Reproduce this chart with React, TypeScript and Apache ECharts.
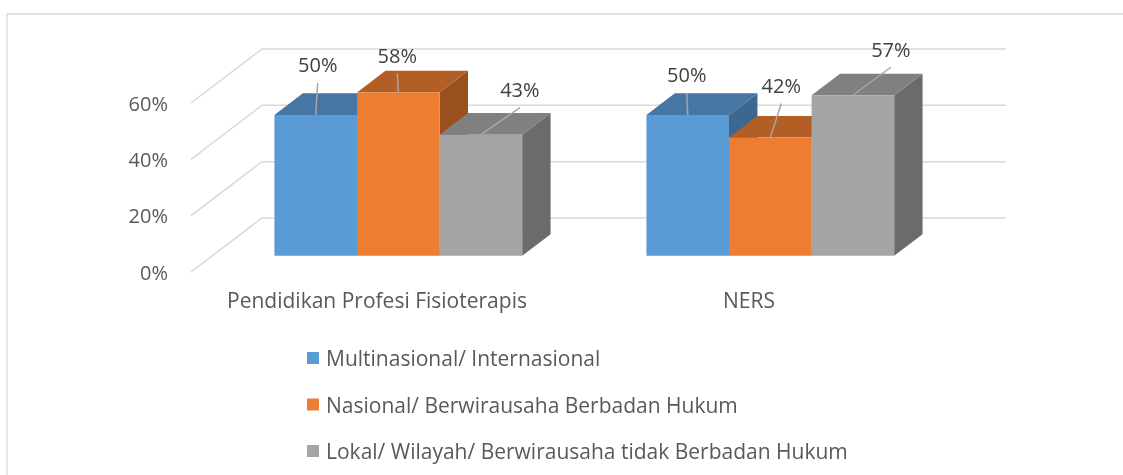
import React, { useEffect, useRef } from "react";
import * as echarts from "echarts";

const categories = ["Pendidikan Profesi Fisioterapis", "NERS"];
const seriesNames = [
  "Multinasional/ Internasional",
  "Nasional/ Berwirausaha Berbadan Hukum",
  "Lokal/ Wilayah/ Berwirausaha tidak Berbadan Hukum",
];
const multinasional = [0.5, 0.5];
const nasional = [0.58, 0.42];
const lokal = [0.43, 0.57];
const tickValues = [0, 0.2, 0.4, 0.6];

// label offsets (relative to top-front-centre of each bar) – layout only
const labelOffsets = [
  [[2, -50], [-1, -40]],
  [[-1, -37], [11, -52]],
  [[39, -45], [38, -46]],
];

const faceColors = [
  { front: "#5B9BD5", top: "#4676A3", side: "#3B6790" },
  { front: "#ED7D31", top: "#B35E24", side: "#9A4F1F" },
  { front: "#A5A5A5", top: "#808080", side: "#6B6B6B" },
];

const FONT = "Open Sans";
const WALL_DX = 71;
const WALL_DY = -54;
const FRONT_F = 0.3;
const DEPTH_F = 0.4;

export default function App() {
  const ref = useRef<HTMLDivElement>(null);
  useEffect(() => {
    document.body.style.margin = "0";
    const chart = echarts.init(ref.current!, null, { renderer: "svg" });
    const values = [multinasional, nasional, lokal];

    const gridSeries = {
      type: "custom",
      silent: true,
      z: 1,
      data: tickValues.map((v) => [0, v]),
      encode: { x: 0, y: 1 },
      renderItem: (params: any, api: any) => {
        const cs = params.coordSys;
        const y = api.coord([0, api.value(1)])[1];
        return {
          type: "polyline",
          shape: {
            points: [
              [cs.x, y],
              [cs.x + WALL_DX, y + WALL_DY],
              [cs.x + cs.width + WALL_DX, y + WALL_DY],
            ],
          },
          style: { stroke: "#D9D9D9", lineWidth: 1.5, fill: "none" },
        };
      },
    };

    const barSeries = values.map((vals, si) => ({
      type: "custom",
      name: seriesNames[si],
      itemStyle: { color: faceColors[si].front },
      data: vals.map((v, ci) => [ci, v]),
      encode: { x: 0, y: 1 },
      renderItem: (params: any, api: any) => {
        const ci = api.value(0);
        const v = api.value(1);
        const base = api.coord([ci, 0]);
        const top = api.coord([ci, v]);
        const bandW = api.size([1, 0])[0];
        const barW = bandW * 0.222;
        const fx = FRONT_F * WALL_DX;
        const fy = FRONT_F * WALL_DY;
        const bdx = DEPTH_F * WALL_DX;
        const bdy = DEPTH_F * WALL_DY;
        const x0 = base[0] + fx - 1.5 * barW + si * barW;
        const yb = base[1] + fy;
        const yt = top[1] + fy;
        const c = faceColors[si];
        const ax = x0 + barW / 2;
        const off = labelOffsets[si][ci];
        return {
          type: "group",
          children: [
            {
              type: "polygon",
              shape: {
                points: [
                  [x0 + barW, yt],
                  [x0 + barW + bdx, yt + bdy],
                  [x0 + barW + bdx, yb + bdy],
                  [x0 + barW, yb],
                ],
              },
              style: { fill: c.side },
            },
            {
              type: "polygon",
              shape: {
                points: [
                  [x0, yt],
                  [x0 + barW, yt],
                  [x0 + barW + bdx, yt + bdy],
                  [x0 + bdx, yt + bdy],
                ],
              },
              style: { fill: c.top },
            },
            {
              type: "rect",
              shape: { x: x0, y: yt, width: barW, height: yb - yt },
              style: { fill: c.front },
            },
            {
              type: "line",
              z2: 100,
              shape: { x1: ax, y1: yt, x2: ax + off[0], y2: yt + off[1] + 18 },
              style: { stroke: "#A6A6A6", lineWidth: 1.5 },
            },
            {
              type: "text",
              z2: 101,
              x: ax + off[0],
              y: yt + off[1],
              style: {
                text: Math.round(v * 100) + "%",
                fontSize: 20,
                fontFamily: FONT,
                fill: "#404040",
                align: "center",
                verticalAlign: "middle",
              },
            },
          ],
        };
      },
    }));

    chart.setOption({
      animation: false,
      grid: { left: 191, right: 188, top: 103, bottom: 203 },
      graphic: [
        {
          type: "rect",
          silent: true,
          shape: { x: 7, y: 14, width: 1300, height: 600 },
          style: { fill: "none", stroke: "#D9D9D9", lineWidth: 1.3 },
        },
      ],
      legend: {
        orient: "vertical",
        left: 302,
        top: 341,
        itemWidth: 12,
        itemHeight: 12,
        itemGap: 22.5,
        data: seriesNames.map((n) => ({ name: n, icon: "rect" })),
        textStyle: {
          fontSize: 21,
          fontFamily: FONT,
          color: "#595959",
          lineHeight: 24,
          padding: [0, 0, 0, 2],
        },
      },
      xAxis: {
        type: "category",
        data: categories,
        axisLine: { show: false },
        axisTick: { show: false },
        axisLabel: {
          interval: 0,
          fontSize: 21,
          fontFamily: FONT,
          color: "#595959",
          margin: 17,
        },
      },
      yAxis: {
        type: "value",
        min: 0,
        max: 0.6,
        interval: 0.2,
        splitLine: { show: false },
        axisLine: { show: false },
        axisTick: { show: false },
        axisLabel: {
          fontSize: 20,
          fontFamily: FONT,
          color: "#595959",
          margin: 23,
          formatter: (v: number) => Math.round(v * 100) + "%",
        },
      },
      series: [gridSeries, ...barSeries],
    });
    return () => chart.dispose();
  }, []);
  return (
    <div
      ref={ref}
      style={{ width: 1123, height: 475, position: "fixed", left: 0, top: 0 }}
    />
  );
}
